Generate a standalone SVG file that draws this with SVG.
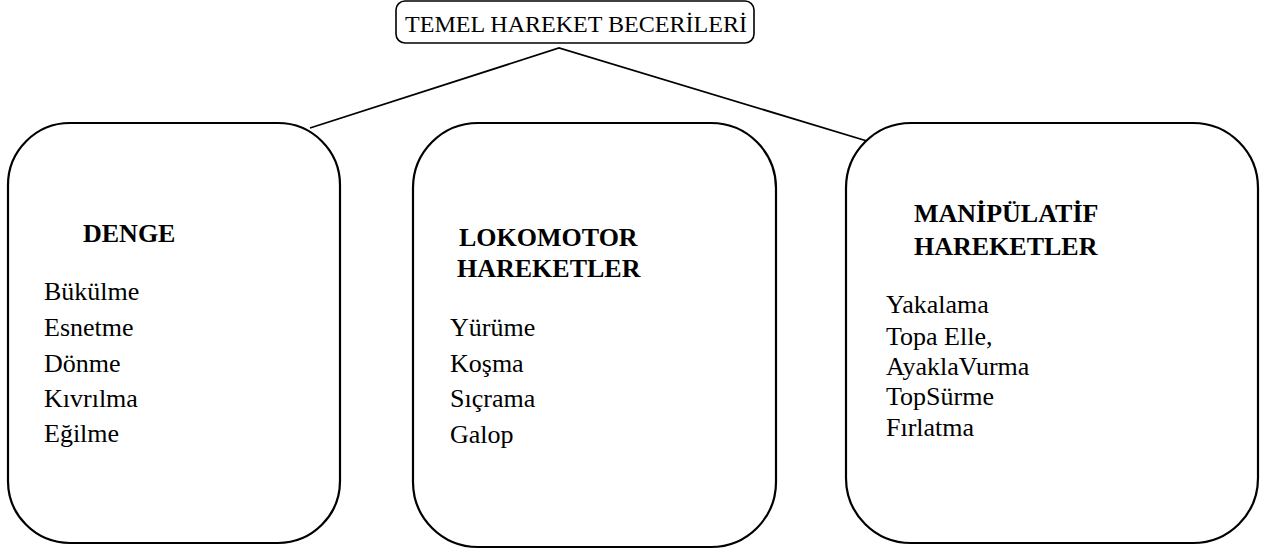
<svg xmlns="http://www.w3.org/2000/svg" width="1275" height="551" viewBox="0 0 1275 551">
<style>
.box{fill:#fff;stroke:#000;stroke-width:2.2}
.t{font-family:"Liberation Serif","Times New Roman",serif;fill:#000}
.h{font-size:26px;font-weight:bold}
.b{font-size:26px}
.conn{fill:none;stroke:#000;stroke-width:1.8}
</style>
<rect width="1275" height="551" fill="#fff"/>
<g id="connectors">
<polyline class="conn" points="310,128 559,48 867,141"/>
</g>
<g id="root">
<rect x="396" y="1" width="358" height="42" rx="9" fill="#fff" stroke="#000" stroke-width="1.6"/>
<text class="t" x="405" y="32" font-size="24" textLength="342" lengthAdjust="spacingAndGlyphs">TEMEL HAREKET BECERİLERİ</text>
</g>
<g id="denge">
<rect class="box" x="8" y="123" width="332" height="420" rx="62"/>
<text class="t h" x="83" y="242">DENGE</text>
<text class="t b" x="44" y="300">Bükülme</text>
<text class="t b" x="44" y="336">Esnetme</text>
<text class="t b" x="44" y="372">Dönme</text>
<text class="t b" x="44" y="407">Kıvrılma</text>
<text class="t b" x="44" y="442">Eğilme</text>
</g>
<g id="lokomotor">
<rect class="box" x="413" y="123" width="363" height="424" rx="65"/>
<text class="t h" x="459" y="246">LOKOMOTOR</text>
<text class="t h" x="457" y="277">HAREKETLER</text>
<text class="t b" x="450" y="336">Yürüme</text>
<text class="t b" x="450" y="372">Koşma</text>
<text class="t b" x="450" y="407">Sıçrama</text>
<text class="t b" x="450" y="443">Galop</text>
</g>
<g id="manipulatif">
<rect class="box" x="846" y="123" width="412" height="420" rx="65"/>
<text class="t h" x="914" y="222">MANİPÜLATİF</text>
<text class="t h" x="914" y="255">HAREKETLER</text>
<text class="t b" x="886" y="313">Yakalama</text>
<text class="t b" x="886" y="345">Topa Elle,</text>
<text class="t b" x="886" y="375">AyaklaVurma</text>
<text class="t b" x="886" y="405">TopSürme</text>
<text class="t b" x="886" y="436">Fırlatma</text>
</g>
</svg>
